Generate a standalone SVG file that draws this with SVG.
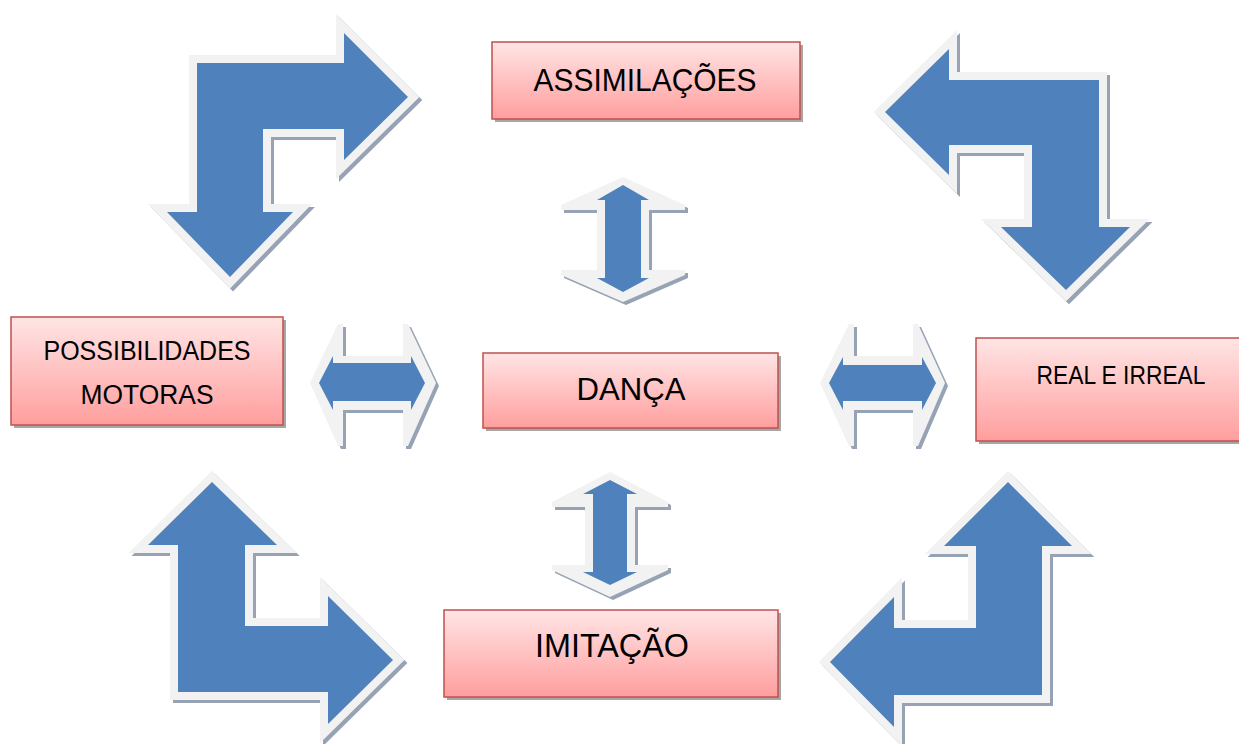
<svg xmlns="http://www.w3.org/2000/svg" xmlns:xlink="http://www.w3.org/1999/xlink" width="1239" height="744" viewBox="0 0 1239 744">
<style>
.bent{fill:#4f81bd;stroke:#f2f2f2;stroke-width:16;paint-order:stroke;stroke-linejoin:miter;stroke-miterlimit:10}
.bentsh{fill:#97a3b5;stroke:#97a3b5;stroke-width:16;stroke-linejoin:miter;stroke-miterlimit:10}
.outer{fill:#f2f2f2}
.outersh{fill:#97a3b5}
.inner{fill:#4f81bd}
.box{fill:url(#pink);stroke:#c0504d;stroke-width:1.5}
.boxsh{fill:#a6a6a6}
.lbl{font-family:"Liberation Sans",Arial,sans-serif;fill:#000;text-anchor:middle}
</style>
<defs>
<linearGradient id="pink" x1="0" y1="0" x2="0" y2="1">
<stop offset="0" stop-color="#ffe5e5"/>
<stop offset="1" stop-color="#ff9e9e"/>
</linearGradient>
<path id="tl" d="M197,63 L344,63 L344,33 L408,97 L344,160 L344,129 L263,129 L263,212 L293,212 L230,277 L167,212 L197,212 Z"/>
<path id="tr" d="M885,112 L949,49 L949,80 L1099,80 L1099,227 L1130,227 L1066,290 L1001,227 L1032,227 L1032,145 L949,145 L949,175 Z"/>
<path id="bl" d="M212,482 L277,545 L245,545 L245,626 L328,626 L328,596 L393,660 L328,724 L328,692 L178,692 L178,545 L148,545 Z"/>
<path id="br" d="M1008,482 L1072,546 L1042,546 L1042,695 L894,695 L894,727 L830,662 L894,597 L894,628 L976,628 L976,546 L944,546 Z"/>
<path id="hl" d="M310,383 L338,324 L343,324 L343,356 L403,356 L403,324 L408,324 L436,383 L408,446 L403,446 L403,410 L343,410 L343,446 L338,446 Z"/>
<path id="hr" d="M820,383 L849,324 L854,324 L854,356 L913,356 L913,324 L918,324 L945,383 L918,446 L913,446 L913,410 L854,410 L854,446 L849,446 Z"/>
<path id="vt" d="M623,177 L685,205 L685,210 L649,210 L649,270 L685,270 L685,275 L623,302 L561,275 L561,270 L597,270 L597,210 L561,210 L561,205 Z"/>
<path id="vb" d="M610,472 L668,502 L668,507 L635,507 L635,565 L668,565 L668,570 L610,597 L552,570 L552,565 L585,565 L585,507 L552,507 L552,502 Z"/>
</defs>
<rect width="1239" height="744" fill="#fff"/>
<g id="connectors">
<g id="arrow-top-left"><use xlink:href="#tl" class="bentsh" transform="translate(3,3)"/><use xlink:href="#tl" class="bent"/></g>
<g id="arrow-top-right"><use xlink:href="#tr" class="bentsh" transform="translate(3,3)"/><use xlink:href="#tr" class="bent"/></g>
<g id="arrow-bottom-left"><use xlink:href="#bl" class="bentsh" transform="translate(3,3)"/><use xlink:href="#bl" class="bent"/></g>
<g id="arrow-bottom-right"><use xlink:href="#br" class="bentsh" transform="translate(3,3)"/><use xlink:href="#br" class="bent"/></g>
<g id="arrow-left">
<use xlink:href="#hl" class="outersh" transform="translate(3,3)"/><use xlink:href="#hl" class="outer"/>
<path class="inner" d="M319,383 L333,356 L333,363 L411,363 L411,356 L425,383 L411,410 L411,401 L333,401 L333,410 Z"/>
</g>
<g id="arrow-right">
<use xlink:href="#hr" class="outersh" transform="translate(3,3)"/><use xlink:href="#hr" class="outer"/>
<path class="inner" d="M829,383 L843,357 L843,365 L922,365 L922,357 L936,383 L922,410 L922,401 L843,401 L843,410 Z"/>
</g>
<g id="arrow-top">
<use xlink:href="#vt" class="outersh" transform="translate(3,3)"/><use xlink:href="#vt" class="outer"/>
<path class="inner" d="M623,185 L649,200 L641,200 L641,278 L649,278 L623,292 L597,278 L605,278 L605,200 L597,200 Z"/>
</g>
<g id="arrow-bottom">
<use xlink:href="#vb" class="outersh" transform="translate(3,3)"/><use xlink:href="#vb" class="outer"/>
<path class="inner" d="M610,480 L637,494 L627,494 L627,572 L637,572 L610,585 L583,572 L593,572 L593,494 L583,494 Z"/>
</g>
</g>
<g id="assimilacoes">
<rect class="boxsh" x="495" y="45" width="308" height="77"/>
<rect class="box" x="492" y="42" width="308" height="77"/>
<text class="lbl" x="645" y="91" font-size="32" textLength="223" lengthAdjust="spacingAndGlyphs">ASSIMILAÇÕES</text>
</g>
<g id="possibilidades">
<rect class="boxsh" x="14" y="320" width="272" height="108"/>
<rect class="box" x="11" y="317" width="272" height="108"/>
<text class="lbl" x="147" y="360" font-size="27" textLength="207" lengthAdjust="spacingAndGlyphs">POSSIBILIDADES</text>
<text class="lbl" x="147" y="404" font-size="27" textLength="133" lengthAdjust="spacingAndGlyphs">MOTORAS</text>
</g>
<g id="danca">
<rect class="boxsh" x="486" y="356" width="295" height="75"/>
<rect class="box" x="483" y="353" width="295" height="75"/>
<text class="lbl" x="631" y="400" font-size="32" textLength="109" lengthAdjust="spacingAndGlyphs">DANÇA</text>
</g>
<g id="real">
<rect class="boxsh" x="979" y="341" width="280" height="103"/>
<rect class="box" x="976" y="338" width="280" height="103"/>
<text class="lbl" x="1121" y="384" font-size="25" textLength="169" lengthAdjust="spacingAndGlyphs">REAL E IRREAL</text>
</g>
<g id="imitacao">
<rect class="boxsh" x="447" y="613" width="334" height="87"/>
<rect class="box" x="444" y="610" width="334" height="87"/>
<text class="lbl" x="612" y="657" font-size="34" textLength="154" lengthAdjust="spacingAndGlyphs">IMITAÇÃO</text>
</g>
</svg>
